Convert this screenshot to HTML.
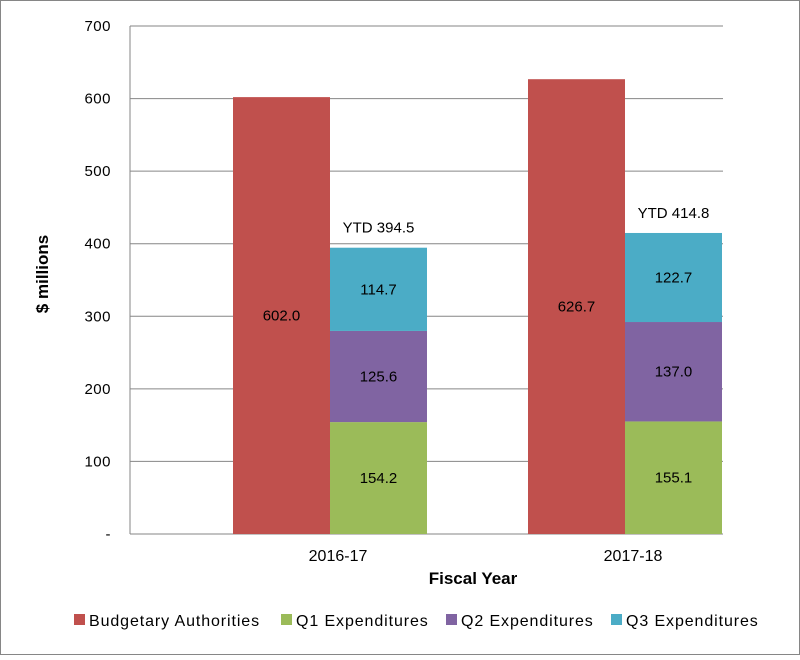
<!DOCTYPE html>
<html><head><meta charset="utf-8"><style>
body{margin:0;background:#fff;}
svg text{font-family:"Liberation Sans",sans-serif;}
</style></head><body>
<svg id="chart" width="800" height="655" xmlns="http://www.w3.org/2000/svg">
<rect x="0.5" y="0.5" width="799" height="654" fill="#fff" stroke="#868686"/>
<g id="grid"></g><g id="bars"></g><g id="labels"></g>
<text x="473" y="584" font-size="17" font-weight="bold" text-anchor="middle">Fiscal Year</text>
<text transform="translate(48,274) rotate(-90)" font-size="17" font-weight="bold" text-anchor="middle">$ millions</text>
<g id="legend"></g>
</svg>
<script>
const categories=["2016-17","2017-18"];
const budget=[602.0,626.7];
const q1=[154.2,155.1];
const q2=[125.6,137.0];
const q3=[114.7,122.7];
const ytd=[394.5,414.8];
const yTicks=[0,100,200,300,400,500,600,700];
const seriesNames=["Budgetary Authorities","Q1 Expenditures","Q2 Expenditures","Q3 Expenditures"];
const colors=["#c0504d","#9bbb59","#8064a2","#4bacc6"];
const NS="http://www.w3.org/2000/svg";
const x0=130,x1=723,y0=534,y1=26;
function y(v){return y0-(v/700)*(y0-y1);}
function cx(i){return 330+i*295;}
const bw=97;
function mk(tag,attrs,parent,txt){const e=document.createElementNS(NS,tag);for(const k in attrs)e.setAttribute(k,attrs[k]);if(txt!==undefined)e.textContent=txt;parent.appendChild(e);return e;}
const grid=document.getElementById('grid'),bars=document.getElementById('bars'),labels=document.getElementById('labels'),legend=document.getElementById('legend');
yTicks.forEach(t=>{
 const l=mk('line',{x1:x0,x2:x1,y1:y(t),y2:y(t),stroke:'#868686','stroke-width':1},grid);
 
 
 const tx=mk('text',{x:111,y:y(t)+5,'font-size':15,'text-anchor':'end',fill:'#000','letter-spacing':'0.5'},grid,t===0?'-':String(t));
 
 
});
const ax=mk('line',{x1:x0,x2:x0,y1:y1,y2:y0,stroke:'#868686'},grid);


categories.forEach((c,i)=>{
 const rl=cx(i)-bw;
 const r=mk('rect',{x:rl,y:y(budget[i]),width:bw,height:y0-y(budget[i]),fill:colors[0]},bars);
 
 
 const lt=mk('text',{x:rl+bw/2,y:(y(budget[i])+y0)/2+5,'font-size':15,'text-anchor':'middle'},labels,budget[i].toFixed(1));
 
 
 let base=0;
 [q1,q2,q3].forEach((s,k)=>{
  const top=base+s[i];
  const b=mk('rect',{x:cx(i),y:y(top),width:bw,height:y(base)-y(top),fill:colors[k+1]},bars);
  
  
  const t=mk('text',{x:cx(i)+bw/2,y:(y(top)+y(base))/2+5,'font-size':15,'text-anchor':'middle'},labels,s[i].toFixed(1));
  
  
  base=top;
 });
 const yt=mk('text',{x:cx(i)+bw/2,y:y(ytd[i])-15,'font-size':15,'text-anchor':'middle'},labels,'YTD '+ytd[i].toFixed(1));
 
 
 const cl=mk('text',{x:cx(i)+8,y:561,'font-size':16,'text-anchor':'middle'},labels,c);
 
 
});
const bl=mk('line',{x1:x0,x2:x1,y1:y0,y2:y0,stroke:'#868686'},grid);


const lx=[74,281,446,611];
seriesNames.forEach((n,k)=>{
 const g=mk('g',{},legend);
 
 
 mk('rect',{x:lx[k],y:614,width:11,height:11,fill:colors[k]},g);
 mk('text',{x:lx[k]+15,y:626,'font-size':16,'letter-spacing':'0.9'},g,n);
});
</script>
</body></html>
